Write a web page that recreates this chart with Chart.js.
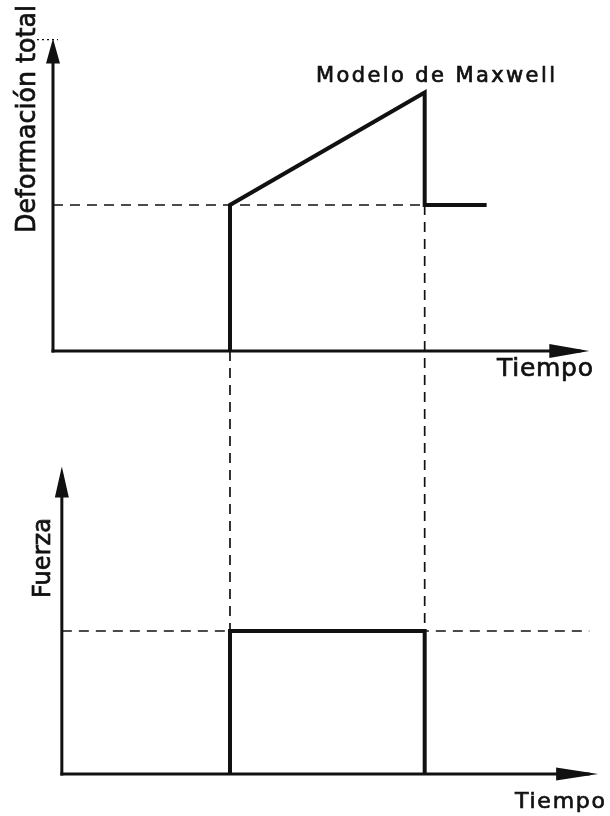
<!DOCTYPE html>
<html>
<head>
<meta charset="utf-8">
<script src="https://cdn.jsdelivr.net/npm/chart.js@4.4.1/dist/chart.umd.min.js"></script>
<style>
  html, body { margin: 0; padding: 0; background: #ffffff; overflow: hidden; }
  #wrap { width: 610px; height: 816px; position: relative; }
  canvas { display: block; }
</style>
</head>
<body>
<div id="wrap"><canvas id="c" width="610" height="816"></canvas></div>
<script>
// ---------------- DATA ----------------
// Upper panel: total deformation (Maxwell model) vs time
const deformTime  = [1, 1, 2.1, 2.1, 2.45];
const deformValue = [0, 1, 1.77, 1, 1];
// Lower panel: applied force vs time
const forceTime  = [1, 1, 2.1, 2.1];
const forceValue = [0, 1, 1, 0];
// Load application / removal instants
const loadTimes = [1, 2.1];
// Reference levels (dashed)
const elasticLevel = 1;
const forceLevel = 1;
// Axis extents (time / value at origin and arrow tips)
const topAxisTime  = [0, 3.03];     // origin, arrow tip
const topAxisValue = [0, 2.14];
const botAxisTime  = [0.05, 3.08];
const botAxisValue = [0, 2.15];
const forceRefEnd = 3.03;
// Texts
const deformLabel = 'Deformación total';
const forceLabel  = 'Fuerza';
const timeLabel   = 'Tiempo';
const modelLabel  = 'Modelo de Maxwell';

// ---------------- STYLE ----------------
const INK = '#111111';
const FONT = '"DejaVu Sans", "Liberation Sans", sans-serif';

function seg(ctx, x1, y1, x2, y2) {
  ctx.beginPath(); ctx.moveTo(x1, y1); ctx.lineTo(x2, y2); ctx.stroke();
}
function tri(ctx, pts) {
  ctx.beginPath(); ctx.moveTo(pts[0][0], pts[0][1]);
  for (let i = 1; i < pts.length; i++) ctx.lineTo(pts[i][0], pts[i][1]);
  ctx.closePath(); ctx.fill();
}
// draw text at (x,y) baseline-left, fitted to target length, optional -90deg rotation
function fitText(ctx, text, x, y, size, target, rotate) {
  ctx.save();
  ctx.font = size + 'px ' + FONT;
  ctx.letterSpacing = '0px';
  const w = ctx.measureText(text).width;
  const n = [...text].length;
  let sx = 1, ls = 0;
  if (target > w) ls = (target - w) / (n - 1); else sx = target / w;
  ctx.translate(x, y);
  if (rotate) ctx.rotate(-Math.PI / 2);
  ctx.scale(sx, 1);
  ctx.letterSpacing = ls + 'px';
  ctx.textAlign = 'left';
  ctx.textBaseline = 'alphabetic';
  ctx.fillStyle = INK;
  ctx.strokeStyle = INK;
  ctx.lineWidth = 0.7;
  ctx.setLineDash([]);
  ctx.fillText(text, 0, 0);
  ctx.strokeText(text, 0, 0);
  ctx.restore();
}

const diagramPlugin = {
  id: 'diagram',
  afterDatasetsDraw(chart) {
    const { ctx } = chart;
    const x = chart.scales.x, yD = chart.scales.yDef, yF = chart.scales.yForce;
    ctx.save();
    ctx.strokeStyle = INK; ctx.fillStyle = INK;

    // ---- connectors between the panels (dashed) ----
    ctx.lineWidth = 1.7; ctx.setLineDash([10, 7]);
    seg(ctx, x.getPixelForValue(loadTimes[0]), yD.getPixelForValue(0),
             x.getPixelForValue(loadTimes[0]), yF.getPixelForValue(forceLevel));
    seg(ctx, x.getPixelForValue(loadTimes[1]), yD.getPixelForValue(elasticLevel),
             x.getPixelForValue(loadTimes[1]), yF.getPixelForValue(forceLevel));

    // small dotted tick at top of deformation axis
    ctx.lineWidth = 1.2; ctx.setLineDash([2, 3]);
    const tx0 = x.getPixelForValue(topAxisTime[0]);
    const ty1 = yD.getPixelForValue(topAxisValue[1]) + 1;
    seg(ctx, tx0 - 16, ty1, tx0 + 5, ty1);
    ctx.setLineDash([]);

    // ---- axes ----
    ctx.lineWidth = 3; ctx.lineCap = 'square';
    // top panel
    const ox = x.getPixelForValue(topAxisTime[0]), oy = yD.getPixelForValue(topAxisValue[0]);
    const txTip = x.getPixelForValue(topAxisTime[1]), tyTip = yD.getPixelForValue(topAxisValue[1]);
    seg(ctx, ox, oy, ox, tyTip + 10);
    seg(ctx, ox, oy, txTip - 10, oy);
    tri(ctx, [[ox, tyTip], [ox - 7, tyTip + 25], [ox + 7, tyTip + 25]]);
    tri(ctx, [[txTip, oy], [txTip - 40, oy - 7], [txTip - 40, oy + 7]]);
    // bottom panel
    const bx = x.getPixelForValue(botAxisTime[0]), by = yF.getPixelForValue(botAxisValue[0]);
    const bxTip = x.getPixelForValue(botAxisTime[1]), byTip = yF.getPixelForValue(botAxisValue[1]);
    seg(ctx, bx, by, bx, byTip + 10);
    seg(ctx, bx, by, bxTip - 10, by);
    tri(ctx, [[bx, byTip], [bx - 7, byTip + 31], [bx + 7, byTip + 31]]);
    tri(ctx, [[bxTip, by], [bxTip - 42, by - 6.5], [bxTip - 42, by + 6.5]]);

    // ---- texts ----
    fitText(ctx, deformLabel, 35, 233, 27, 228, true);
    fitText(ctx, forceLabel, 50, 598, 24, 80, true);
    fitText(ctx, modelLabel, 316, 82, 21, 239, false);
    fitText(ctx, timeLabel, 497, 376, 25, 96, false);
    fitText(ctx, timeLabel, 515, 808, 22, 90, false);
    ctx.restore();
  }
};

const toXY = (xs, ys) => xs.map((t, i) => ({ x: t, y: ys[i] }));

new Chart(document.getElementById('c'), {
  type: 'scatter',
  data: {
    datasets: [
      { // elastic level reference (dashed)
        data: toXY([topAxisTime[0], loadTimes[1]], [elasticLevel, elasticLevel]),
        yAxisID: 'yDef', showLine: true, pointRadius: 0,
        borderColor: INK, borderWidth: 1.7, borderDash: [10, 7]
      },
      { // force level reference (dashed)
        data: toXY([botAxisTime[0], forceRefEnd], [forceLevel, forceLevel]),
        yAxisID: 'yForce', showLine: true, pointRadius: 0,
        borderColor: INK, borderWidth: 1.7, borderDash: [10, 7]
      },
      { // deformation curve
        data: toXY(deformTime, deformValue),
        yAxisID: 'yDef', showLine: true, pointRadius: 0, tension: 0,
        borderColor: INK, borderWidth: 4, borderJoinStyle: 'miter'
      },
      { // force curve
        data: toXY(forceTime, forceValue),
        yAxisID: 'yForce', showLine: true, pointRadius: 0, tension: 0,
        borderColor: INK, borderWidth: 4, borderJoinStyle: 'miter'
      }
    ]
  },
  options: {
    responsive: false,
    animation: false,
    devicePixelRatio: 1,
    layout: { padding: 0 },
    plugins: { legend: { display: false }, tooltip: { enabled: false }, title: { display: false } },
    scales: {
      x:      { type: 'linear', min: -0.2994, max: 3.147, display: false },
      yDef:   { type: 'linear', position: 'left', min: -3.185, max: 2.404, display: false },
      yForce: { type: 'linear', position: 'left', min: -0.2937, max: 5.413, display: false }
    }
  },
  plugins: [diagramPlugin]
});
</script>
</body>
</html>
